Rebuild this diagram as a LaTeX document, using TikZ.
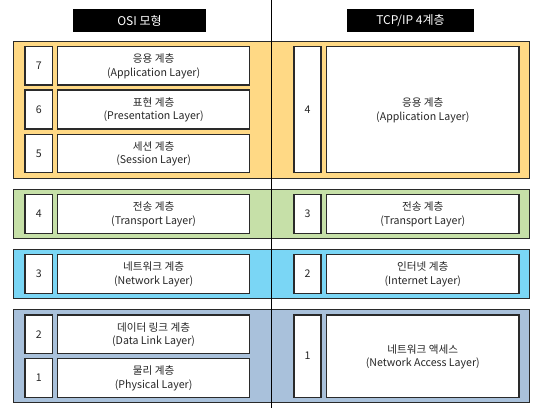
\documentclass[tikz,border=0pt]{standalone}
\usepackage{fontspec}
\setmainfont{Noto Sans CJK KR}
\definecolor{cyel}{HTML}{FFD985}
\definecolor{cgrn}{HTML}{C6E0A8}
\definecolor{cblu}{HTML}{7AD6F5}
\definecolor{cstl}{HTML}{A9C1DB}
\definecolor{cline}{HTML}{2A2A2A}
\begin{document}
\begin{tikzpicture}[x=1pt,y=-1pt,
  group/.style={draw=cline,line width=1.1pt},
  cell/.style={draw=cline,fill=white,line width=1.3pt},
  lbl/.style={font=\fontsize{10.6}{13.5}\selectfont,align=center,text=black!85},
  hdr/.style={fill=black,text=white,font=\fontsize{12}{14}\selectfont,inner sep=0pt,minimum width=133pt,minimum height=23pt}]
\useasboundingbox (0,0) rectangle (541,408);
% headers
\node[hdr] (hosi) at (139.5,20.5) {OSI 모형};
\node[hdr,minimum width=127pt] (htcp) at (410.5,20.5) {TCP/IP 4계층};
% groups
\draw[group,fill=cyel] (13.8,41.5) rectangle (529.8,178.3);
\draw[group,fill=cgrn] (13.8,189.5) rectangle (529.8,238.3);
\draw[group,fill=cblu] (13.8,249.5) rectangle (529.8,298.3);
\draw[group,fill=cstl] (13.8,309.5) rectangle (529.8,402.3);
% OSI cells
\newcommand{\osirow}[5]{%
  \draw[cell] (24.9,#1) rectangle (52.6,#2);
  \node[lbl] (n#3) at (38.75,{(#1+#2)/2}) {#3};
  \draw[cell] (57.4,#1) rectangle (249.8,#2);
  \node[lbl] (t#3) at (153.6,{(#1+#2)/2+0.5}) {#4\\#5};}
\osirow{46.7}{85}{7}{응용 계층}{(Application Layer)}
\osirow{90}{129}{6}{표현 계층}{(Presentation Layer)}
\osirow{134.3}{172.7}{5}{세션 계층}{(Session Layer)}
\osirow{194.7}{233.3}{4}{전송 계층}{(Transport Layer)}
\osirow{254.7}{293.3}{3}{네트워크 계층}{(Network Layer)}
\osirow{315}{353.3}{2}{데이터 링크 계층}{(Data Link Layer)}
\osirow{358.7}{397.3}{1}{물리 계층}{(Physical Layer)}
% TCP/IP cells
\newcommand{\tcprow}[5]{%
  \draw[cell] (294,#1) rectangle (321,#2);
  \node[lbl] (m#3) at (307.5,{(#1+#2)/2}) {#3};
  \draw[cell] (326.6,#1) rectangle (519,#2);
  \node[lbl] (u#3) at (422.8,{(#1+#2)/2+0.5}) {#4\\#5};}
\tcprow{46.7}{172.7}{4}{응용 계층}{(Application Layer)}
\tcprow{194.7}{233.3}{3}{전송 계층}{(Transport Layer)}
\tcprow{254.7}{293.3}{2}{인터넷 계층}{(Internet Layer)}
\tcprow{315}{397.3}{1}{네트워크 액세스}{(Network Access Layer)}
% divider
\coordinate (dtop) at (271.5,0);
\coordinate (dbot) at (271.5,408);
\draw[line width=1.3pt,black] (dtop) -- (dbot);
\end{tikzpicture}
\end{document}
